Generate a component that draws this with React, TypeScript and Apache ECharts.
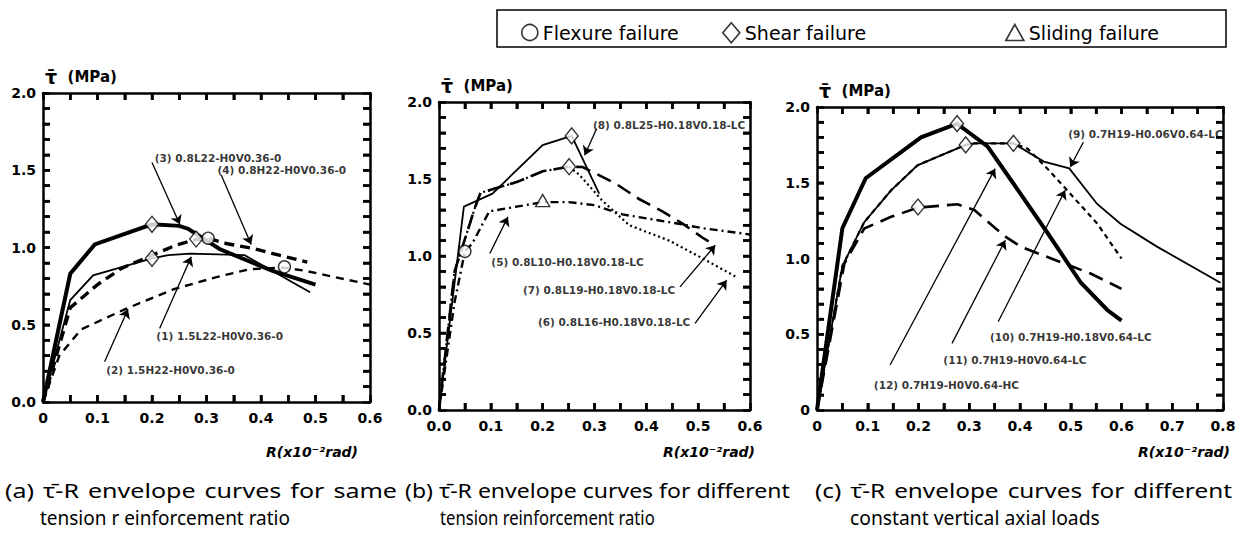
import { useEffect, useRef } from 'react';
import * as echarts from 'echarts';

// ---------- tick labels ----------
const xTicksA = ['0', '0.1', '0.2', '0.3', '0.4', '0.5', '0.6'];
const yTicksA = ['0.0', '0.5', '1.0', '1.5', '2.0'];
const xTicksB = ['0.0', '0.1', '0.2', '0.3', '0.4', '0.5', '0.6'];
const yTicksB = ['0.0', '0.5', '1.0', '1.5', '2.0'];
const xTicksC = ['0', '0.1', '0.2', '0.3', '0.4', '0.5', '0.6', '0.7', '0.8'];
const yTicksC = ['0', '0.5', '1.0', '1.5', '2.0'];

// minor tick steps (x every 0.05, y every 0.1)
const xMinorStep = 0.05;
const yMinorStep = 0.1;

// ---------- panel (a) curves [R, tau] ----------
const a1 = [[0, 0], [0.05, 0.66], [0.092, 0.82], [0.2, 0.93], [0.23, 0.95], [0.27, 0.96], [0.37, 0.95], [0.49, 0.71]];
const a2 = [[0, 0], [0.03, 0.3], [0.07, 0.47], [0.15, 0.6], [0.24, 0.73], [0.32, 0.81], [0.38, 0.86], [0.44, 0.87], [0.48, 0.85], [0.6, 0.76]];
const a3 = [[0, 0], [0.05, 0.83], [0.095, 1.02], [0.2, 1.15], [0.25, 1.14], [0.267, 1.12], [0.324, 0.99], [0.42, 0.85], [0.5, 0.76]];
const a4 = [[0, 0], [0.05, 0.61], [0.1, 0.76], [0.144, 0.865], [0.2, 0.95], [0.245, 1.016], [0.281, 1.052], [0.303, 1.06], [0.336, 1.026], [0.385, 0.994], [0.422, 0.96], [0.471, 0.918], [0.485, 0.905]];
const flexureA = [[0.303, 1.06], [0.443, 0.875]];
const shearA = [[0.2, 1.15], [0.2, 0.93], [0.281, 1.055]];

// ---------- panel (b) curves ----------
const b5 = [[0, 0], [0.03, 0.7], [0.05, 1.03], [0.064, 1.08], [0.097, 1.29], [0.132, 1.31], [0.2, 1.35], [0.25, 1.35], [0.3, 1.33], [0.354, 1.27], [0.444, 1.22], [0.51, 1.18], [0.6, 1.14]];
const b6 = [[0, 0], [0.03, 0.9], [0.07, 1.32], [0.08, 1.41], [0.1, 1.43], [0.15, 1.48], [0.2, 1.55], [0.251, 1.58], [0.27, 1.53], [0.315, 1.36], [0.367, 1.2], [0.444, 1.1], [0.5, 1.0], [0.573, 0.865]];
const b7 = [[0, 0], [0.03, 0.9], [0.07, 1.32], [0.08, 1.41], [0.1, 1.43], [0.15, 1.48], [0.2, 1.55], [0.251, 1.58], [0.277, 1.578], [0.341, 1.47], [0.386, 1.37], [0.431, 1.29], [0.47, 1.21], [0.508, 1.12], [0.533, 1.07]];
const b8 = [[0, 0], [0.048, 1.32], [0.103, 1.405], [0.2, 1.72], [0.256, 1.78], [0.309, 1.405]];
const flexureB = [[0.05, 1.03]];
const shearB = [[0.256, 1.78], [0.251, 1.58]];
const slidingB = [[0.2, 1.36]];

// ---------- panel (c) curves ----------
const c9 = [[0, 0], [0.05, 0.95], [0.093, 1.24], [0.146, 1.45], [0.198, 1.615], [0.293, 1.75], [0.31, 1.76], [0.387, 1.76], [0.447, 1.64], [0.497, 1.595], [0.552, 1.36], [0.598, 1.23], [0.669, 1.08], [0.795, 0.84]];
const c10 = [[0, 0], [0.05, 0.95], [0.093, 1.24], [0.146, 1.45], [0.198, 1.615], [0.293, 1.75], [0.31, 1.76], [0.387, 1.76], [0.415, 1.725], [0.454, 1.593], [0.493, 1.45], [0.552, 1.231], [0.6, 1.0]];
const c11 = [[0, 0], [0.054, 0.967], [0.093, 1.198], [0.146, 1.275], [0.199, 1.336], [0.277, 1.358], [0.31, 1.32], [0.352, 1.198], [0.372, 1.143], [0.402, 1.077], [0.487, 0.967], [0.539, 0.901], [0.6, 0.8]];
const c12 = [[0, 0], [0.05, 1.2], [0.096, 1.53], [0.205, 1.8], [0.276, 1.89], [0.336, 1.74], [0.388, 1.49], [0.454, 1.17], [0.52, 0.84], [0.572, 0.66], [0.6, 0.59]];
const shearC = [[0.276, 1.89], [0.293, 1.75], [0.387, 1.76], [0.199, 1.34]];

// ---------- annotation texts and their anchor / arrow points (data space) ----------
const labelsA = [
  { name: '(3) 0.8L22-H0V0.36-0', value: [0.205, 1.58] },
  { name: '(4) 0.8H22-H0V0.36-0', value: [0.32, 1.5] },
  { name: '(1) 1.5L22-H0V0.36-0', value: [0.208, 0.43] },
  { name: '(2) 1.5H22-H0V0.36-0', value: [0.116, 0.205] },
];
const arrowsA = [
  [[0.2, 1.55], [0.251, 1.15]],
  [[0.327, 1.47], [0.382, 1.02]],
  [[0.214, 0.476], [0.272, 0.94]],
  [[0.113, 0.26], [0.156, 0.6]],
];
const labelsB = [
  { name: '(8) 0.8L25-H0.18V0.18-LC', value: [0.297, 1.848] },
  { name: '(5) 0.8L10-H0.18V0.18-LC', value: [0.101, 0.962] },
  { name: '(7) 0.8L19-H0.18V0.18-LC', value: [0.162, 0.778] },
  { name: '(6) 0.8L16-H0.18V0.18-LC', value: [0.191, 0.573] },
];
const arrowsB = [
  [[0.304, 1.827], [0.281, 1.654]],
  [[0.098, 1.016], [0.133, 1.254]],
  [[0.465, 0.8], [0.533, 1.07]],
  [[0.494, 0.562], [0.555, 0.843]],
];
const labelsC = [
  { name: '(9) 0.7H19-H0.06V0.64-LC', value: [0.495, 1.824] },
  { name: '(10) 0.7H19-H0.18V0.64-LC', value: [0.341, 0.483] },
  { name: '(11) 0.7H19-H0V0.64-LC', value: [0.249, 0.33] },
  { name: '(12) 0.7H19-H0V0.64-HC', value: [0.112, 0.165] },
];
const arrowsC = [
  [[0.525, 1.769], [0.499, 1.604]],
  [[0.357, 0.582], [0.489, 1.45]],
  [[0.266, 0.44], [0.371, 1.12]],
  [[0.144, 0.297], [0.351, 1.593]],
];

const legendNames = ['Flexure failure', 'Shear failure', 'Sliding failure'];
const yTitle = '{t|τ\u0304}  (MPa)';
const xTitle = 'R(x10⁻²rad)';
const captions = [
  '(a) τ\u0304-R envelope curves for same',
  'tension r einforcement ratio',
  '(b) τ\u0304-R envelope curves for different',
  'tension reinforcement ratio',
  '(c) τ\u0304-R envelope curves for different',
  'constant vertical axial loads',
];

// ---------- layout / styles ----------
const grids = [
  { left: 43, top: 93, width: 327, height: 309 },
  { left: 439, top: 102, width: 311, height: 308 },
  { left: 817, top: 107, width: 406, height: 303 },
];
const xMaxes = [0.6, 0.6, 0.8];
const captionLayout = [
  { x0: 5, x1: 397, y: 490, mode: 'justify' },
  { x0: 40, x1: 290, y: 517, mode: 'fit' },
  { x0: 405, x1: 790, y: 490, mode: 'fit' },
  { x0: 440, x1: 655, y: 517, mode: 'fit' },
  { x0: 815, x1: 1232, y: 490, mode: 'justify' },
  { x0: 850, x1: 1100, y: 517, mode: 'fit' },
];
const styles: Record<string, any> = {
  thick: { width: 4, type: 'solid' },
  thin: { width: 1.8, type: 'solid' },
  dashThick: { width: 3.4, type: [10, 6] },
  dashThin: { width: 2.4, type: [8, 6] },
  dotted: { width: 2.2, type: [2, 3] },
  longDash: { width: 2.6, type: [15, 8] },
  dashDot: { width: 2.4, type: [8, 4, 2, 4] },
  shortDash: { width: 2.2, type: [5, 4] },
};

const BOLD = 'DejaVu Sans';
const CAP_FONT = 'Noto Sans';
const CAP_SIZE = 20;
const WORD_GAP = 9;
const TICK_LEN = 7;
const TICK_W = 2.5;

function axes(gi: number, xMax: number, xTicks: string[], yTicks: string[]) {
  const label = { color: '#000', fontFamily: BOLD, fontWeight: 'bold', fontSize: 14 };
  const mk = () => ({ show: true, onZero: false, lineStyle: { color: '#000', width: 2.5 } });
  const tk = () => ({ show: true, inside: true, length: TICK_LEN, lineStyle: { color: '#000', width: TICK_W } });
  const mt = (n: number) => ({ show: true, splitNumber: n, length: TICK_LEN, lineStyle: { color: '#000', width: TICK_W } });
  const xBase = () => ({
    type: 'value', gridIndex: gi, min: 0, max: xMax, interval: 0.1,
    axisLine: mk(), axisTick: tk(), minorTick: mt(2), splitLine: { show: false },
  });
  const yBase = () => ({
    type: 'value', gridIndex: gi, min: 0, max: 2, interval: 0.5,
    axisLine: mk(), axisTick: tk(), minorTick: mt(5), splitLine: { show: false },
  });
  return {
    x: [
      { ...xBase(), position: 'bottom', axisLabel: { ...label, margin: 9, showMinLabel: true, showMaxLabel: true, formatter: (v: number) => xTicks[Math.round(v * 10)] ?? '' } },
      { ...xBase(), position: 'top', axisLabel: { show: false } },
    ],
    y: [
      {
        ...yBase(), position: 'left',
        axisLabel: { ...label, margin: 7, showMinLabel: true, showMaxLabel: true, formatter: (v: number) => yTicks[Math.round(v * 2)] ?? '' },
        name: yTitle, nameLocation: 'end', nameGap: 7,
        nameTextStyle: {
          color: '#000', fontFamily: BOLD, fontWeight: 'bold', fontSize: 15, align: 'left', verticalAlign: 'bottom', padding: [0, 0, 0, 2],
          rich: { t: { fontFamily: BOLD, fontWeight: 'bold', fontSize: 19, color: '#000' } },
        },
      },
      { ...yBase(), position: 'right', axisLabel: { show: false } },
    ],
  };
}

function curve(gi: number, data: number[][], style: string) {
  return {
    type: 'line', xAxisIndex: 2 * gi, yAxisIndex: 2 * gi, data, symbol: 'none', silent: true, z: 2,
    lineStyle: { color: '#000', width: styles[style].width, type: styles[style].type, cap: 'butt', join: 'miter' },
  };
}

const markerStyle = { color: '#fff', borderColor: '#000', borderWidth: 1.4 };
function markers(gi: number, name: string, data: number[][], symbol: string, size: any) {
  return { type: 'scatter', name, xAxisIndex: 2 * gi, yAxisIndex: 2 * gi, data, symbol, symbolSize: size, itemStyle: markerStyle, z: 6, silent: true };
}

function notes(gi: number, labels: any[], arrows: number[][][]) {
  return [
    {
      type: 'lines', coordinateSystem: 'cartesian2d', xAxisIndex: 2 * gi, yAxisIndex: 2 * gi, silent: true, z: 4,
      data: arrows.map((c) => ({ coords: c })), symbol: ['none', 'arrow'], symbolSize: 9,
      lineStyle: { color: '#000', width: 1.3, opacity: 1 },
    },
    {
      type: 'scatter', xAxisIndex: 2 * gi, yAxisIndex: 2 * gi, silent: true, z: 7,
      data: labels, symbolSize: 0,
      label: { show: true, position: 'right', distance: 0, formatter: '{b}', color: '#000', fontFamily: BOLD, fontWeight: 'bold', fontSize: 10.5 },
    },
  ];
}

function captionGraphics() {
  const canvas = document.createElement('canvas');
  const ctx = canvas.getContext('2d')!;
  ctx.font = `${CAP_SIZE}px "${CAP_FONT}"`;
  const out: any[] = [];
  captions.forEach((text, i) => {
    const lay: any = captionLayout[i];
    const base = { fill: '#000', fontFamily: CAP_FONT, fontSize: CAP_SIZE, align: 'left', verticalAlign: 'middle' };
    if (lay.mode === 'justify') {
      const words = text.split(' ');
      const ws = words.map((w) => ctx.measureText(w).width);
      const total = ws.reduce((s, w) => s + w, 0);
      const s = (lay.x1 - lay.x0 - WORD_GAP * (words.length - 1)) / total;
      let x = lay.x0;
      words.forEach((w, k) => {
        out.push({ type: 'text', x, y: lay.y, scaleX: s, style: { ...base, text: w } });
        x += ws[k] * s + WORD_GAP;
      });
    } else {
      const w = ctx.measureText(text).width;
      out.push({ type: 'text', x: lay.x0, y: lay.y, scaleX: (lay.x1 - lay.x0) / w, style: { ...base, text } });
    }
  });
  return out;
}

// inward frame ticks, positioned with the axes' own scales (convertToPixel)
function tickGraphics(chart: any) {
  const out: any[] = [];
  const st = { stroke: '#000', lineWidth: TICK_W };
  grids.forEach((_, gi) => {
    const xMax = xMaxes[gi];
    const finder = { xAxisIndex: 2 * gi, yAxisIndex: 2 * gi };
    const nx = Math.round(xMax / xMinorStep);
    for (let i = 1; i < nx; i++) {
      const v = i * xMinorStep;
      const pb = chart.convertToPixel(finder, [v, 0]);
      const pt = chart.convertToPixel(finder, [v, 2]);
      if (!pb || !pt) continue;
      out.push({ type: 'line', z: 50, shape: { x1: pb[0], y1: pb[1], x2: pb[0], y2: pb[1] - TICK_LEN }, style: st });
      out.push({ type: 'line', z: 50, shape: { x1: pt[0], y1: pt[1], x2: pt[0], y2: pt[1] + TICK_LEN }, style: st });
    }
    const ny = Math.round(2 / yMinorStep);
    for (let i = 1; i < ny; i++) {
      const u = i * yMinorStep;
      const pl = chart.convertToPixel(finder, [0, u]);
      const pr = chart.convertToPixel(finder, [xMax, u]);
      if (!pl || !pr) continue;
      out.push({ type: 'line', z: 50, shape: { x1: pl[0], y1: pl[1], x2: pl[0] + TICK_LEN, y2: pl[1] }, style: st });
      out.push({ type: 'line', z: 50, shape: { x1: pr[0], y1: pr[1], x2: pr[0] - TICK_LEN, y2: pr[1] }, style: st });
    }
  });
  return out;
}

export default function App() {
  const ref = useRef<HTMLDivElement>(null);
  useEffect(() => {
    if (!ref.current) return;
    const chart = echarts.init(ref.current, undefined, { renderer: 'svg' });
    const A = axes(0, xMaxes[0], xTicksA, yTicksA);
    const B = axes(1, xMaxes[1], xTicksB, yTicksB);
    const C = axes(2, xMaxes[2], xTicksC, yTicksC);
    const legendCommon = {
      selectedMode: false, orient: 'horizontal',
      textStyle: { color: '#000', fontFamily: 'DejaVu Sans', fontSize: 19 },
      itemStyle: { color: '#fff', borderColor: '#000', borderWidth: 1.6 },
    };
    const xTitleStyle = { fill: '#000', fontFamily: BOLD, fontWeight: 'bold', fontStyle: 'italic', fontSize: 14, align: 'right', verticalAlign: 'middle', text: xTitle };
    const baseGraphic = [
      { type: 'rect', shape: { x: 497, y: 10, width: 729, height: 37 }, style: { fill: 'none', stroke: '#000', lineWidth: 1.5 } },
      { type: 'text', x: 358, y: 452, style: xTitleStyle },
      { type: 'text', x: 755, y: 452, style: xTitleStyle },
      { type: 'text', x: 1230, y: 452, style: xTitleStyle },
      ...captionGraphics(),
    ];
    chart.setOption({
      animation: false,
      backgroundColor: '#fff',
      grid: grids,
      xAxis: [...A.x, ...B.x, ...C.x],
      yAxis: [...A.y, ...B.y, ...C.y],
      legend: [
        { ...legendCommon, left: 516, top: 18, itemWidth: 16, itemHeight: 16, data: [{ name: legendNames[0], icon: 'circle' }] },
        { ...legendCommon, left: 717, top: 17, itemWidth: 17, itemHeight: 20, data: [{ name: legendNames[1], icon: 'diamond' }] },
        { ...legendCommon, left: 1000, top: 18, itemWidth: 18, itemHeight: 16, data: [{ name: legendNames[2], icon: 'triangle' }] },
      ],
      graphic: baseGraphic,
      series: [
        curve(0, a1, 'thin'), curve(0, a2, 'dashThin'), curve(0, a3, 'thick'), curve(0, a4, 'dashThick'),
        markers(0, legendNames[0], flexureA, 'circle', 12),
        markers(0, legendNames[1], shearA, 'diamond', [13, 16]),
        ...notes(0, labelsA, arrowsA),
        curve(1, b5, 'dashDot'), curve(1, b6, 'dotted'), curve(1, b7, 'longDash'), curve(1, b8, 'thin'),
        markers(1, legendNames[0], flexureB, 'circle', 12),
        markers(1, legendNames[1], shearB, 'diamond', [13, 16]),
        markers(1, legendNames[2], slidingB, 'triangle', [14, 12]),
        ...notes(1, labelsB, arrowsB),
        curve(2, c9, 'thin'), curve(2, c10, 'shortDash'), curve(2, c11, 'longDash'), curve(2, c12, 'thick'),
        markers(2, legendNames[1], shearC, 'diamond', [13, 16]),
        ...notes(2, labelsC, arrowsC),
      ],
    });
    try {
      const ticks = tickGraphics(chart);
      chart.setOption({ graphic: [...baseGraphic, ...ticks] });
    } catch (e) {
      // keep the chart without extra ticks if conversion fails
    }
    return () => chart.dispose();
  }, []);
  return <div ref={ref} style={{ position: 'fixed', left: 0, top: 0, width: 1241, height: 538, background: '#fff' }} />;
}
